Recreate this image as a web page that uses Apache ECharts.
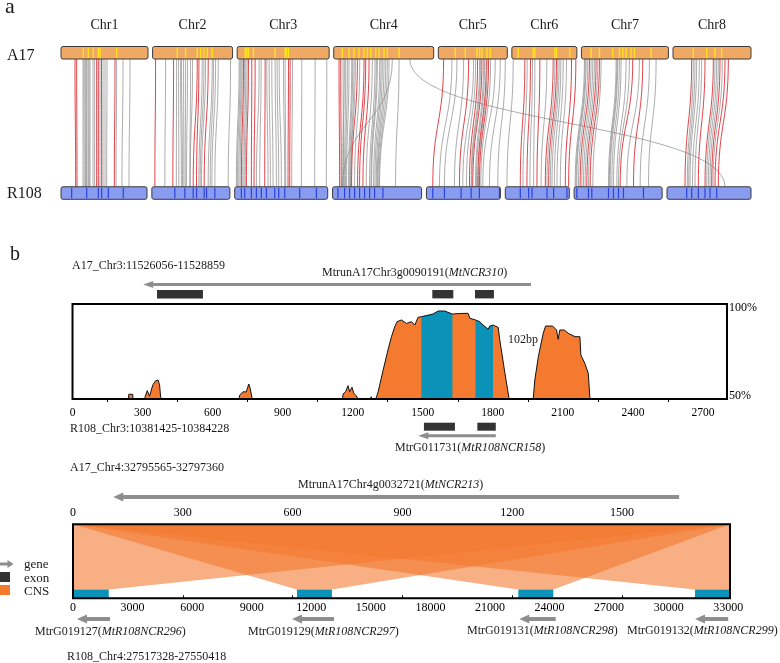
<!DOCTYPE html>
<html><head><meta charset="utf-8">
<script src="https://cdn.jsdelivr.net/npm/echarts@6/dist/echarts.min.js"></script>
<style>html,body{margin:0;padding:0;background:#fff}#c{width:780px;height:663px}</style>
</head><body><div id="c"></div>
<script>
// ================= DATA =================
// ---- panel a : synteny between A17 and R108 ----
const chrNames = ['Chr1','Chr2','Chr3','Chr4','Chr5','Chr6','Chr7','Chr8'];
const a17ChrLen  = [52.2, 48.0, 55.2, 60.0, 41.4, 39.0, 52.2, 46.8];   // Mb
const r108ChrLen = [51.6, 46.8, 55.8, 53.4, 44.4, 38.4, 52.8, 50.4];   // Mb
const genomeSpan = 414;                                                 // Mb incl. gaps

// links within a chromosome: [A17 pos (Mb), R108 pos (Mb), red flag]
const linksChr1 = [[8.4,8.8,1],[9.4,9.6,1],[13.2,13.2,0],[13.8,13.9,0],[14.4,14.7,0],[15.0,15.2,0],[15.4,15.6,0],[16.2,16.4,0],[16.8,16.9,0],[17.4,17.4,0],[19.2,19.2,0],[20.2,20.2,0],[21.4,21.4,1],[22.4,22.4,1],[23.4,23.4,0],[24.3,24.4,1],[25.2,25.2,0],[26.4,26.4,0],[27.6,27.4,0],[32.4,32.0,1],[33.4,33.0,0],[37.2,36.6,0],[41.4,40.8,0]];
const linksChr2 = [[1.8,1.8,1],[7.8,7.8,0],[12.6,12.6,1],[14.4,14.7,0],[15.6,16.2,0],[16.8,17.7,0],[17.4,18.4,0],[18.6,19.2,0],[19.8,20.0,0],[21.0,20.8,0],[22.8,22.8,0],[24.0,23.0,0],[26.8,24.8,1],[27.8,26.8,1],[29.8,28.2,0],[30.8,29.0,0],[31.8,29.8,0],[33.4,31.4,1],[35.8,33.8,0],[36.6,35.0,0],[37.8,36.0,0],[39.4,37.8,0],[46.8,45.8,0]];
const linksChr3 = [[1.2,1.0,0],[1.8,1.6,0],[2.4,2.4,0],[3.0,3.2,0],[3.8,4.0,1],[4.4,4.8,0],[5.2,5.6,0],[6.0,6.3,0],[6.8,7.0,1],[8.8,10.0,1],[10.8,11.6,1],[13.2,13.0,0],[14.4,15.0,0],[16.8,18.0,1],[17.8,20.0,0],[19.2,21.4,0],[20.8,23.0,0],[22.8,25.0,0],[24.0,26.4,0],[25.2,28.0,0],[27.8,30.0,0],[28.8,30.6,0],[30.8,32.0,1],[31.8,33.0,1],[33.2,34.2,0],[38.8,40.0,0],[46.8,48.0,0],[53.8,55.0,0]];
const linksChr4 = [[3.2,4.2,1],[4.2,5.2,1],[5.6,6.6,0],[6.4,6.0,0],[7.2,7.2,0],[8.2,7.8,0],[9.2,8.4,0],[10.8,9.6,0],[11.4,10.2,0],[12.2,10.8,0],[13.0,11.0,0],[14.2,11.4,1],[15.6,13.2,0],[18.2,15.0,1],[19.2,16.2,1],[21.2,18.2,1],[23.2,20.2,0],[24.8,22.2,0],[25.6,23.0,0],[26.2,23.4,0],[27.6,24.6,0],[28.4,25.4,0],[29.2,26.2,0],[30.2,26.8,0],[31.2,27.2,0],[32.2,27.8,0],[33.2,28.2,0],[35.2,6.0,0],[39.2,37.8,0]];
const linksChr5 = [[3.2,3.8,1],[8.2,7.8,0],[11.2,10.8,0],[15.2,16.8,0],[18.2,19.8,1],[21.2,21.8,0],[22.4,24.0,0],[23.6,25.8,1],[24.8,26.8,0],[25.4,27.2,0],[26.2,27.8,1],[27.2,29.4,0],[27.8,30.0,0],[28.8,30.8,1],[29.4,31.2,0],[30.2,31.8,1],[31.4,32.6,0],[34.2,33.8,0],[37.2,37.8,0],[40.2,42.8,0]];
const linksChr6 = [[0.8,1.0,0],[7.8,9.0,1],[9.2,10.6,0],[11.2,13.0,1],[12.4,14.8,0],[13.8,17.0,0],[16.8,19.0,1],[21.0,21.5,0],[24.8,24.0,1],[25.8,25.0,0],[26.8,26.0,1],[27.6,27.0,0],[28.4,28.0,0],[29.4,29.4,0],[30.8,31.0,0],[32.8,33.0,0],[35.8,36.0,1],[38.4,38.0,1]];
const linksChr7 = [[1.8,0.6,0],[2.3,1.1,0],[2.8,1.6,0],[3.8,2.6,0],[4.8,3.6,1],[5.8,4.6,0],[6.8,5.6,0],[7.8,6.6,0],[8.8,7.6,1],[9.8,8.6,0],[10.8,9.6,1],[11.8,11.2,0],[20.8,20.6,0],[21.3,21.1,0],[21.8,21.6,0],[22.8,22.6,0],[23.8,23.6,0],[26.8,25.6,0],[28.8,26.6,0],[30.8,27.6,1],[34.8,31.6,0],[36.8,35.6,1],[40.8,39.6,0],[44.8,44.6,0]];
const linksChr8 = [[11.2,10.8,1],[12.2,12.2,0],[13.2,13.0,0],[14.2,13.8,0],[15.8,15.3,0],[17.2,16.8,0],[19.2,18.8,1],[24.2,22.8,1],[25.2,23.8,0],[26.2,24.8,0],[27.2,25.8,0],[28.2,26.8,1],[29.6,27.6,0],[31.2,28.8,1],[33.2,30.8,1]];
// inter-chromosomal: [A17 chr index, A17 pos, R108 chr index, R108 pos, red flag]
const crossLinks = [[3, 45.6, 7, 34.8, 0]];

// NCR gene marks on the chromosomes (Mb)
const a17Marks = [
  [13.4,16.4,19.4,22.4,23.4,33.4],
  [14.8,19.8,26.8,28.8,30.8,32.8,35.8],
  [4.8,5.8,6.8,9.8,22.8,28.8,29.6,30.8],
  [5.2,9.2,12.2,15.2,18.2,20.2,22.2,25.2,27.2,30.2,32.2,39.2],
  [10.2,16.2,23.2,24.8,26.2,29.2,31.2],
  [3.8,12.8,13.8,25.8,26.8,34.8],
  [5.8,10.8,18.8,22.8,24.8,26.8,29.8,31.8,41.8],
  [12.2,20.2,25.2,29.2]
];
const r108Marks = [
  [6.4,15.4,22.4,24.4,28.4,37.4],
  [13.8,19.8,24.8,26.8,31.4,32.8,37.8],
  [4.0,6.0,10.0,13.0,16.0,19.0,24.0,26.4,30.0,39.0,49.0],
  [3.2,7.2,10.2,13.2,16.2,19.2,22.2,25.2,30.2],
  [3.8,10.8,20.8,26.8,31.8,43.8],
  [9.0,14.0,16.0,25.0,29.0,37.0],
  [1.6,8.6,10.6,20.6,23.6,26.6,29.6,41.6],
  [11.8,14.8,18.8,22.8,25.8,29.8]
];

// ---- panel b (upper): MtNCR310 region ----
const regionLenChr3 = 2803;
const chr3Ticks = 300;
const a17GeneChr3 = [[301, 1963]];
const a17ExonsChr3 = [[360, 557], [1540, 1630], [1723, 1804]];
const r108GeneChr3 = [[1480, 1812]];
const r108ExonsChr3 = [[1504, 1637], [1733, 1812]];
// identity profile [bp, %]
const identityProfile = [[0,50],[240,50],[241,52.5],[258,52.5],[259,50],[309,50],[311,51.2],[320,54.4],[330,51.5],[344,57.4],[356,59.6],[366,60],[373,57.4],[377,51.5],[381,50],
  [713,50],[716,52],[730,53.8],[744,53.7],[755,57.9],[761,55.6],[768,51],[773,50],
  [1156,50],[1159,52.6],[1170,54],[1180,57],[1187,53.8],[1197,56.2],[1205,53],[1216,51.6],[1223,50],[1276,50],[1279,51.2],[1283,50],
  [1299,50],[1309,53.8],[1330,65],[1351,75.8],[1366,82.8],[1380,88],[1390,90.7],[1409,91.6],[1430,89.8],[1452,90.7],[1466,88.9],[1480,93],[1494,93.3],[1544,94.7],[1566,96.3],[1594,96.3],[1627,94.7],[1660,95],[1694,95.1],[1702,92.5],[1726,91.6],[1744,90.7],[1759,88.9],[1780,86.7],[1787,88.4],[1801,88.9],[1823,87.7],[1830,81],[1852,63.5],[1870,50],
  [1973,50],[1980,60],[1995,72.3],[2016,84.6],[2026,88.4],[2056,88.4],[2073,86.3],[2080,81.4],[2087,86.3],[2106,86.3],[2123,84.6],[2152,82.8],[2173,82.8],[2177,73.2],[2194,68.8],[2209,63.5],[2216,50],[2803,50]];
const exonCNSRanges = [[1494, 1627], [1726, 1801]];

// ---- panel b (lower): MtNCR213 region ----
const a17RegionLenChr4 = 1795;
const r108RegionLenChr4 = 33090;
const a17GeneChr4 = [[110, 1656]];
const r108GenesChr4 = [[201, 1863], [11030, 13145], [22478, 24311], [31327, 33000]];
const cnsA17Chr4 = [[0, 1795], [0, 1795], [0, 1795], [0, 1795]];
const cnsR108Chr4 = [[0, 1800], [11280, 13040], [22430, 24190], [31330, 33090]];

// ================= LAYOUT / HELPERS =================
const FONT = '"Liberation Serif", "Times New Roman", serif';
const ORANGE = '#F47A30', TEAL = '#0A92B8', GENE_GRAY = '#8E8E8E', EXON = '#333333';
const Y_A17_LOW = 0.918, Y_R108_HIGH = 0.082;

function offsets(lens) {
  const sum = lens.reduce((a, b) => a + b, 0);
  const gap = (genomeSpan - sum) / (lens.length - 1);
  const off = []; let acc = 0;
  lens.forEach(l => { off.push(acc); acc += l + gap; });
  return off;
}
const a17Off = offsets(a17ChrLen), r108Off = offsets(r108ChrLen);

const linkData = [];
[linksChr1, linksChr2, linksChr3, linksChr4, linksChr5, linksChr6, linksChr7, linksChr8]
  .forEach((set, c) => set.forEach(l => linkData.push([c, l[0], c, l[1], l[2]])));
crossLinks.forEach(l => linkData.push(l.slice()));
linkData.sort((a, b) => a[4] - b[4]);

function renderLink(params, api) {
  const p1 = api.coord([a17Off[api.value(0)] + api.value(1), Y_A17_LOW]);
  const p2 = api.coord([r108Off[api.value(2)] + api.value(3), Y_R108_HIGH]);
  const my = (p1[1] + p2[1]) / 2;
  const red = api.value(4) === 1;
  return { type: 'bezierCurve',
    shape: { x1: p1[0], y1: p1[1], x2: p2[0], y2: p2[1], cpx1: p1[0], cpy1: my, cpx2: p2[0], cpy2: my },
    style: { stroke: red ? '#D9252B' : '#8A8A8A', lineWidth: 1, fill: null, opacity: red ? 0.85 : 0.7 } };
}

function renderChr(params, api) {
  const i = api.value(0);
  const ch = [];
  const a0 = api.coord([a17Off[i], 1]), a1 = api.coord([a17Off[i] + a17ChrLen[i], Y_A17_LOW]);
  ch.push({ type: 'rect', shape: { x: a0[0], y: a0[1], width: a1[0] - a0[0], height: a1[1] - a0[1], r: 2 },
    style: { fill: '#EFA964', stroke: '#3a3a3a', lineWidth: 1 } });
  a17Marks[i].forEach(m => { const q = api.coord([a17Off[i] + m, 1]);
    ch.push({ type: 'line', shape: { x1: q[0], y1: a0[1] + 1, x2: q[0], y2: a1[1] - 1 }, style: { stroke: '#FFE21A', lineWidth: 1.4 } }); });
  const r0 = api.coord([r108Off[i], Y_R108_HIGH]), r1 = api.coord([r108Off[i] + r108ChrLen[i], 0]);
  ch.push({ type: 'rect', shape: { x: r0[0], y: r0[1], width: r1[0] - r0[0], height: r1[1] - r0[1], r: 2 },
    style: { fill: '#8A9CF0', stroke: '#3a3a3a', lineWidth: 1 } });
  r108Marks[i].forEach(m => { const q = api.coord([r108Off[i] + m, 0]);
    ch.push({ type: 'line', shape: { x1: q[0], y1: r0[1] + 1, x2: q[0], y2: r1[1] - 1 }, style: { stroke: '#1A33DD', lineWidth: 1.2, opacity: 0.85 } }); });
  ch.push({ type: 'text', x: (a0[0] + a1[0]) / 2, y: a0[1] - 21,
    style: { text: chrNames[i], font: '14px ' + FONT, fill: '#1a1a1a', align: 'center', verticalAlign: 'middle' } });
  return { type: 'group', children: ch };
}

// identity profile: orange area, teal CNS-in-exon areas, black outline
function renderProfile(params, api) {
  const pts = identityProfile.map(p => api.coord(p));
  const base = v => api.coord([v, 50]);
  const ch = [];
  ch.push({ type: 'polygon', shape: { points: [base(identityProfile[0][0])].concat(pts, [base(identityProfile[identityProfile.length - 1][0])]) },
    style: { fill: ORANGE } });
  exonCNSRanges.forEach(r => {
    const sub = identityProfile.filter(p => p[0] >= r[0] && p[0] <= r[1]).map(p => api.coord(p));
    ch.push({ type: 'polygon', shape: { points: [base(r[0])].concat(sub, [base(r[1])]) }, style: { fill: TEAL } });
  });
  ch.push({ type: 'polyline', shape: { points: pts }, style: { stroke: '#111', lineWidth: 1, fill: null } });
  return { type: 'group', children: ch };
}

function arrowRenderer(yFrac, lw, headLen, headHalf) {
  return function (params, api) {
    const a = api.coord([api.value(0), yFrac]), b = api.coord([api.value(1), yFrac]);
    return { type: 'group', children: [
      { type: 'line', shape: { x1: a[0] + headLen - 1, y1: a[1], x2: b[0], y2: b[1] }, style: { stroke: GENE_GRAY, lineWidth: lw } },
      { type: 'polygon', shape: { points: [[a[0], a[1]], [a[0] + headLen, a[1] - headHalf], [a[0] + headLen, a[1] + headHalf]] }, style: { fill: GENE_GRAY } }
    ] };
  };
}
function rectRenderer(yTop, yBot, color) {
  return function (params, api) {
    const p = api.coord([api.value(0), yTop]), q = api.coord([api.value(1), yBot]);
    return { type: 'rect', shape: { x: p[0], y: p[1], width: q[0] - p[0], height: q[1] - p[1] }, style: { fill: color } };
  };
}
const BLOCK_TOP = 0.12;
function renderCNS(params, api) {
  const i = api.value(0);
  const k = r108RegionLenChr4 / a17RegionLenChr4;
  const t1 = api.coord([cnsA17Chr4[i][0] * k, 1]), t2 = api.coord([cnsA17Chr4[i][1] * k, 1]);
  const b2 = api.coord([cnsR108Chr4[i][1], BLOCK_TOP]), b1 = api.coord([cnsR108Chr4[i][0], BLOCK_TOP]);
  return { type: 'polygon', shape: { points: [t1, t2, b2, b1] }, style: { fill: ORANGE, opacity: 0.6 } };
}

const hiddenAxis = (grid, min, max) => ({ type: 'value', gridIndex: grid, min, max, show: false });
const plain = v => String(v);
const lbl = (size, extra) => Object.assign({ color: '#000', fontFamily: FONT, fontSize: size, formatter: plain }, extra || {});

const grids = [
  { left: 61, width: 690, top: 46.5, height: 152.8 },
  { left: 73, width: 654, top: 280, height: 20 },
  { left: 72.5, width: 654.5, top: 304, height: 95, show: true, borderColor: '#000', borderWidth: 2, z: 10, backgroundColor: 'transparent' },
  { left: 73, width: 654, top: 420, height: 20 },
  { left: 73, width: 657, top: 487, height: 20 },
  { left: 73, width: 657, top: 524.3, height: 74, show: true, borderColor: '#000', borderWidth: 2, z: 10, backgroundColor: 'transparent' },
  { left: 73, width: 657, top: 609, height: 20 }
].map(g => Object.assign({ outerBoundsMode: 'none', containLabel: false }, g));

const xAxes = [
  hiddenAxis(0, 0, genomeSpan),
  hiddenAxis(1, 0, regionLenChr3),
  { type: 'value', gridIndex: 2, min: 0, max: regionLenChr3, interval: chr3Ticks, position: 'bottom',
    axisLine: { show: false }, axisTick: { show: false }, splitLine: { show: false },
    minorTick: { show: true, splitNumber: 2, length: 3, lineStyle: { color: '#000', width: 1 } }, minorSplitLine: { show: false },
    axisLabel: lbl(11.5, { margin: 8, showMaxLabel: false }) },
  hiddenAxis(3, 0, regionLenChr3),
  hiddenAxis(4, 0, a17RegionLenChr4),
  { type: 'value', gridIndex: 5, min: 0, max: a17RegionLenChr4, interval: 300, position: 'top',
    axisLine: { show: false }, axisTick: { show: true, length: 3, lineStyle: { color: '#000' } }, splitLine: { show: false },
    axisLabel: lbl(12, { margin: 5, showMaxLabel: false }) },
  { type: 'value', gridIndex: 5, min: 0, max: r108RegionLenChr4, interval: 3000, position: 'bottom',
    axisLine: { show: false }, axisTick: { show: false }, splitLine: { show: false },
    axisLabel: lbl(12, { margin: 4, showMaxLabel: false }) },
  hiddenAxis(6, 0, r108RegionLenChr4)
];
const yAxes = [
  hiddenAxis(0, 0, 1), hiddenAxis(1, 0, 1),
  { type: 'value', gridIndex: 2, min: 50, max: 100, interval: 50, position: 'right',
    axisLine: { show: false }, axisTick: { show: false }, splitLine: { show: false },
    axisLabel: lbl(12, { margin: 2, formatter: v => v === 100 ? '{t|100%}' : '{b|' + v + '%}',
      rich: { t: { padding: [8, 0, 0, 0], fontFamily: FONT, fontSize: 12, color: '#000' }, b: { padding: [0, 0, 7, 0], fontFamily: FONT, fontSize: 12, color: '#000' } } }) },
  hiddenAxis(3, 0, 1), hiddenAxis(4, 0, 1), hiddenAxis(5, 0, 1), hiddenAxis(6, 0, 1)
];

const series = [
  // panel a
  { type: 'custom', xAxisIndex: 0, yAxisIndex: 0, data: linkData, renderItem: renderLink, z: 2, silent: true },
  { type: 'custom', xAxisIndex: 0, yAxisIndex: 0, data: chrNames.map((n, i) => [i]), renderItem: renderChr, z: 3, silent: true },
  // panel b upper
  { type: 'custom', xAxisIndex: 1, yAxisIndex: 1, data: a17GeneChr3, renderItem: arrowRenderer(0.78, 3, 10, 3.5), silent: true },
  { type: 'custom', xAxisIndex: 1, yAxisIndex: 1, data: a17ExonsChr3, renderItem: rectRenderer(0.5, 0.08, EXON), silent: true },
  { type: 'custom', xAxisIndex: 2, yAxisIndex: 2, data: [[0, 50]], renderItem: renderProfile, silent: true, z: 2 },
  { type: 'custom', xAxisIndex: 3, yAxisIndex: 3, data: r108ExonsChr3, renderItem: rectRenderer(0.865, 0.465, EXON), silent: true },
  { type: 'custom', xAxisIndex: 3, yAxisIndex: 3, data: r108GeneChr3, renderItem: arrowRenderer(0.215, 3, 10, 3.5), silent: true },
  // panel b lower
  { type: 'custom', xAxisIndex: 4, yAxisIndex: 4, data: a17GeneChr4, renderItem: arrowRenderer(0.5, 4, 10, 4.5), silent: true },
  { type: 'custom', xAxisIndex: 6, yAxisIndex: 5, data: cnsR108Chr4.map((c, i) => [i]), renderItem: renderCNS, silent: true, z: 2 },
  { type: 'custom', xAxisIndex: 6, yAxisIndex: 5, data: cnsR108Chr4, renderItem: rectRenderer(BLOCK_TOP, 0, TEAL), silent: true, z: 3 },
  { type: 'custom', xAxisIndex: 7, yAxisIndex: 6, data: r108GenesChr4, renderItem: arrowRenderer(0.5, 4, 10, 4.5), silent: true }
];

function txt(x, y, text, size, extra) {
  return Object.assign({ type: 'text', x, y, silent: true,
    style: Object.assign({ text, font: size + 'px ' + FONT, fill: '#1a1a1a', align: 'left', verticalAlign: 'middle' }, extra || {}) });
}
function geneLabel(x, y, plainName, italic) {
  return { type: 'text', x, y, silent: true, style: {
    text: '{n|' + plainName + '(}{i|' + italic + '}{n|)}', align: 'left', verticalAlign: 'middle',
    rich: { n: { font: '12px ' + FONT, fill: '#1a1a1a' }, i: { font: 'italic 12px ' + FONT, fill: '#1a1a1a' } } } };
}

const graphics = [
  txt(5, 7, 'a', 22),
  txt(10, 255, 'b', 20),
  txt(7, 56, 'A17', 16),
  txt(7, 194, 'R108', 16),
  txt(72, 266, 'A17_Chr3:11526056-11528859', 12),
  geneLabel(322, 272.5, 'MtrunA17Chr3g0090191', 'MtNCR310'),
  txt(508, 340, '102bp', 12),
  txt(70, 429, 'R108_Chr3:10381425-10384228', 12),
  geneLabel(395, 448, 'MtrG011731', 'MtR108NCR158'),
  txt(70, 468, 'A17_Chr4:32795565-32797360', 12),
  geneLabel(298, 485, 'MtrunA17Chr4g0032721', 'MtNCR213'),
  geneLabel(35, 631.5, 'MtrG019127', 'MtR108NCR296'),
  geneLabel(248, 631.5, 'MtrG019129', 'MtR108NCR297'),
  geneLabel(467, 630.5, 'MtrG019131', 'MtR108NCR298'),
  geneLabel(627, 630.5, 'MtrG019132', 'MtR108NCR299'),
  txt(67, 657, 'R108_Chr4:27517328-27550418', 12),
  // legend
  { type: 'line', silent: true, shape: { x1: 0, y1: 564, x2: 9, y2: 564 }, style: { stroke: GENE_GRAY, lineWidth: 3 } },
  { type: 'polygon', silent: true, shape: { points: [[13.5, 564], [7.5, 560], [7.5, 568]] }, style: { fill: GENE_GRAY } },
  { type: 'rect', silent: true, shape: { x: 0, y: 572, width: 10, height: 10 }, style: { fill: EXON } },
  { type: 'rect', silent: true, shape: { x: 0, y: 585, width: 10, height: 10 }, style: { fill: ORANGE } },
  txt(24, 565, 'gene', 13),
  txt(24, 578.5, 'exon', 13),
  txt(24, 591.5, 'CNS', 13)
];

const chart = echarts.init(document.getElementById('c'), null, { renderer: 'canvas' });
chart.setOption({
  backgroundColor: '#fff',
  animation: false,
  textStyle: { fontFamily: FONT },
  grid: grids, xAxis: xAxes, yAxis: yAxes, series,
  graphic: { elements: graphics }
});
</script></body></html>
